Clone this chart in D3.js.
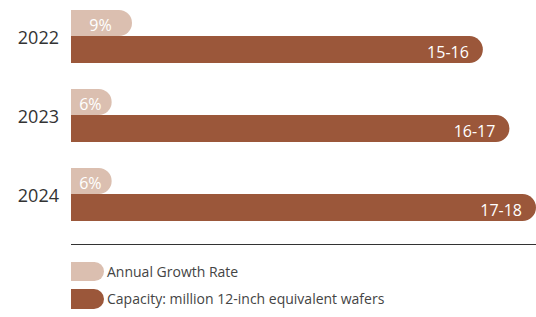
<!DOCTYPE html>
<html>
<head>
<meta charset="utf-8">
<script src="https://cdn.jsdelivr.net/npm/d3@7"></script>
<style>
  body { margin: 0; background: #fff; }
  #T { width: 536px; height: 317px; }
  text { font-family: "Open Sans", sans-serif; }
</style>
</head>
<body>
<div id="T"></div>
<script>
const years = ["2022", "2023", "2024"];
const growth = [9, 6, 6];
const capacityMid = [15.5, 16.5, 17.5];
const capacityLabels = ["15-16", "16-17", "17-18"];
const legendLabels = ["Annual Growth Rate", "Capacity: million 12-inch equivalent wafers"];

const light = "#dbbfb0", dark = "#9b573a";

const parent = d3.select('#T');
const { width, height } = parent.node().getBoundingClientRect();
const SVG = parent.append('svg')
    .attr("width", width)
    .attr("height", height);

const x0 = 71;
const y = d3.scaleBand().domain(years).range([10, 221]).paddingInner(0.33);
const xCap = d3.scaleLinear().domain([0, 17.5]).range([x0, 536]);
const xGrowth = d3.scaleLinear().domain([0, 9]).range([0, 61]);

// bar with rounded right end
function pill(x, yy, w, h) {
    const r = h / 2;
    return `M${x},${yy}H${x + w - r}A${r},${r} 0 0 1 ${x + w},${yy + r}A${r},${r} 0 0 1 ${x + w - r},${yy + h}H${x}Z`;
}

const bw = y.bandwidth();
const hL = Math.floor(bw / 2), hD = bw - hL;

const g = SVG.selectAll("g.row").data(years).join("g").attr("class", "row");

g.append("path")
    .attr("fill", light)
    .attr("d", (d, i) => pill(x0, y(d), xGrowth(growth[i]), hL));
g.append("path")
    .attr("fill", dark)
    .attr("d", (d, i) => pill(x0, y(d) + hL, xCap(capacityMid[i]) - x0, hD));

g.append("text")
    .attr("x", 59)
    .attr("y", d => y(d) + hL + 8)
    .attr("text-anchor", "end")
    .attr("fill", "#333")
    .style("font-size", "18px")
    .text(d => d);

g.append("text")
    .attr("x", (d, i) => x0 + xGrowth(growth[i]) / 2 - 1)
    .attr("y", d => y(d) + hL - 5)
    .attr("text-anchor", "middle")
    .attr("fill", "#fff")
    .style("font-size", "16px")
    .text((d, i) => growth[i] + "%");

g.append("text")
    .attr("x", (d, i) => xCap(capacityMid[i]) - 14)
    .attr("y", d => y(d) + bw - 5)
    .attr("text-anchor", "end")
    .attr("fill", "#fff")
    .style("font-size", "16px")
    .text((d, i) => capacityLabels[i]);

SVG.append("line")
    .attr("x1", x0).attr("x2", 536)
    .attr("y1", 244.5).attr("y2", 244.5)
    .attr("stroke", "#333").attr("stroke-width", 1);

const leg = SVG.selectAll("g.leg").data(legendLabels).join("g").attr("class", "leg")
    .attr("transform", (d, i) => `translate(${x0},${262 + i * 27})`);
leg.append("path")
    .attr("fill", (d, i) => i ? dark : light)
    .attr("d", (d, i) => pill(0, 0, 33, i ? 20 : 19));
leg.append("text")
    .attr("x", 36)
    .attr("y", 15)
    .attr("fill", "#444")
    .style("font-size", "14px")
    .text(d => d);
</script>
</body>
</html>
